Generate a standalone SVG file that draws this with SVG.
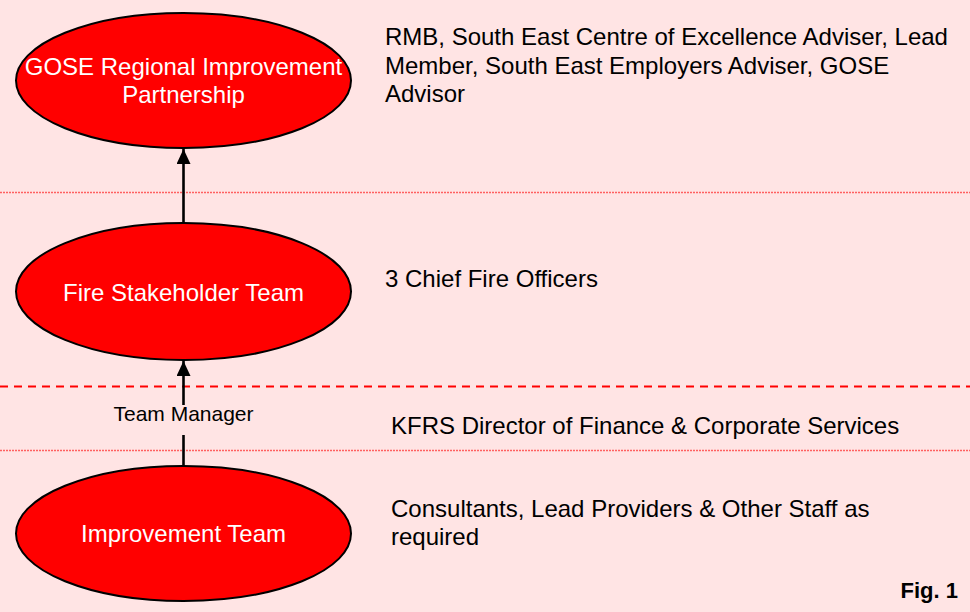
<svg xmlns="http://www.w3.org/2000/svg" width="970" height="612" viewBox="0 0 970 612">
<style>
.node{fill:#FF0000;stroke:#000;stroke-width:2}
.nt{font-family:"Liberation Sans",Arial,sans-serif;font-size:24px;fill:#fff;text-anchor:middle}
.rt{font-family:"Liberation Sans",Arial,sans-serif;font-size:24px;fill:#000}
.conn{stroke:#000;stroke-width:2.6;fill:none}
.dot{stroke:#FF6060;stroke-width:1.5;stroke-dasharray:2 1;fill:none}
.dash{stroke:#FF0000;stroke-width:2;stroke-dasharray:8 6;fill:none}
</style>
<defs>
<marker id="ah" viewBox="0 0 15 14" refX="15" refY="7" markerWidth="15" markerHeight="14" markerUnits="userSpaceOnUse" orient="auto">
<path d="M0 0 L15 7 L0 14 Z" fill="#000"/>
</marker>
</defs>
<rect width="970" height="612" fill="#FFE4E4"/>
<g id="separators">
<line class="dot" x1="0" y1="192.5" x2="970" y2="192.5"/>
<line class="dash" x1="0" y1="386.5" x2="970" y2="386.5"/>
<line class="dot" x1="0" y1="450.5" x2="970" y2="450.5"/>
</g>
<g id="connectors">
<line class="conn" x1="183.5" y1="223" x2="183.5" y2="149" marker-end="url(#ah)"/>
<line class="conn" x1="183.5" y1="466" x2="183.5" y2="435"/>
<line class="conn" x1="183.5" y1="405" x2="183.5" y2="361" marker-end="url(#ah)"/>
<text x="183.5" y="421" font-family="'Liberation Sans',Arial,sans-serif" font-size="21" text-anchor="middle" fill="#000">Team Manager</text>
</g>
<g id="node-gose">
<ellipse class="node" cx="183.5" cy="80.5" rx="167.5" ry="67.5"/>
<text class="nt" x="183.5" y="75">GOSE Regional Improvement</text>
<text class="nt" x="183.5" y="103">Partnership</text>
</g>
<g id="node-fire">
<ellipse class="node" cx="183.5" cy="291.5" rx="167.5" ry="68.5"/>
<text class="nt" x="183.5" y="301">Fire Stakeholder Team</text>
</g>
<g id="node-improvement">
<ellipse class="node" cx="183.5" cy="533.5" rx="167.5" ry="67.5"/>
<text class="nt" x="183.5" y="542">Improvement Team</text>
</g>
<g id="descriptions">
<text class="rt" x="385" y="45">RMB, South East Centre of Excellence Adviser, Lead</text>
<text class="rt" x="385" y="74">Member, South East Employers Adviser, GOSE</text>
<text class="rt" x="385" y="102">Advisor</text>
<text class="rt" x="385" y="287">3 Chief Fire Officers</text>
<text class="rt" x="391" y="434">KFRS Director of Finance &amp; Corporate Services</text>
<text class="rt" x="391" y="517">Consultants, Lead Providers &amp; Other Staff as</text>
<text class="rt" x="391" y="545">required</text>
<text x="958" y="598" font-family="'Liberation Sans',Arial,sans-serif" font-size="22" font-weight="bold" text-anchor="end" fill="#000">Fig. 1</text>
</g>
</svg>
